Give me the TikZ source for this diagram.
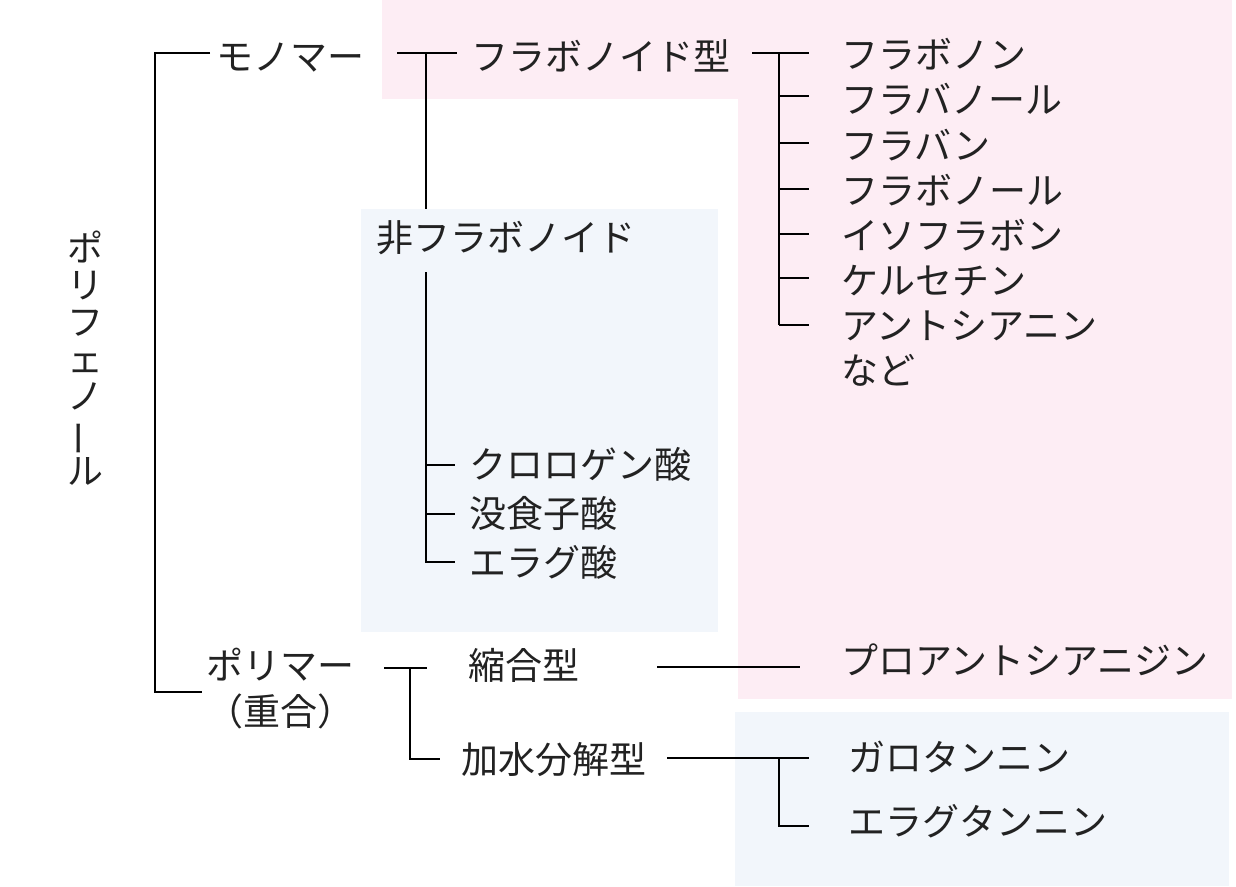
\documentclass[tikz,border=0pt]{standalone}
\usepackage{fontspec}
\setmainfont{Noto Sans CJK JP}
\definecolor{pinkbg}{RGB}{253,237,244}
\definecolor{bluebg}{RGB}{242,246,251}
\definecolor{txt}{RGB}{34,34,34}
\begin{document}
\begin{tikzpicture}[x=1pt,y=-1pt,
  lbl/.style={anchor=west,inner sep=0pt,text=txt,font=\fontsize{37}{40}\selectfont,text height=0.88em,text depth=0.12em,yshift=-10pt},
  ln/.style={draw=black,line width=1.1pt}]
\useasboundingbox (0,0) rectangle (1236,886);
\fill[white] (0,0) rectangle (1236,886);
% backgrounds
\fill[pinkbg] (382,0) rectangle (740,99);
\fill[pinkbg] (738,0) rectangle (1232,699);
\fill[bluebg] (361,209) rectangle (718,632);
\fill[bluebg] (735,712) rectangle (1229,886);
% vertical title
\node[inner sep=0pt,text=txt,font=\fontsize{36}{37}\selectfont,align=center] (root) at (85,358)
  {ポ\\リ\\フ\\ェ\\ノ\\\rotatebox[origin=c]{90}{ー}\\ル};
% nodes
\node[lbl] (mono) at (216,57) {モノマー};
\node[lbl] (flv) at (471,57) {フラボノイド型};
\node[lbl] (f1) at (841,55) {フラボノン};
\node[lbl] (f2) at (841,100) {フラバノール};
\node[lbl] (f3) at (841,146) {フラバン};
\node[lbl] (f4) at (841,191) {フラボノール};
\node[lbl] (f5) at (841,236) {イソフラボン};
\node[lbl] (f6) at (841,281) {ケルセチン};
\node[lbl] (f7) at (841,326) {アントシアニン};
\node[lbl] (f8) at (841,371) {など};
\node[lbl] (nf) at (376,238) {非フラボノイド};
\node[lbl] (n1) at (469,465) {クロロゲン酸};
\node[lbl] (n2) at (469,514) {没食子酸};
\node[lbl] (n3) at (469,563) {エラグ酸};
\node[lbl] (poly) at (206,666) {ポリマー};
\node[lbl] (poly2) at (206,712) {（重合）};
\node[lbl] (cond) at (468,666) {縮合型};
\node[lbl] (pro) at (841,661) {プロアントシアニジン};
\node[lbl] (hyd) at (461,760) {加水分解型};
\node[lbl] (g1) at (848,758) {ガロタンニン};
\node[lbl] (g2) at (848,822) {エラグタンニン};
% coordinates for brackets
\coordinate (a1) at (155,53);
\coordinate (a2) at (155,692);
\coordinate (a1e) at (210,53);
\coordinate (a2e) at (202,692);
\coordinate (b0) at (397,53);
\coordinate (b1) at (426,53);
\coordinate (b1e) at (457,53);
\coordinate (b2) at (426,209);
\coordinate (b3) at (426,272);
\coordinate (bn1) at (426,465);
\coordinate (bn2) at (426,514);
\coordinate (bn3) at (426,562);
\coordinate (c0) at (752,53);
\coordinate (c1) at (779,53);
\coordinate (c7) at (779,325);
\coordinate (p0) at (384,668);
\coordinate (p1) at (410,668);
\coordinate (p1e) at (427,668);
\coordinate (p2) at (410,759);
\coordinate (q0) at (657,667);
\coordinate (q1) at (800,667);
\coordinate (h0) at (667,758);
\coordinate (h1) at (779,758);
\coordinate (h2) at (779,826);
% lines
\draw[ln] (a1e) -- (a1) -- (a2) -- (a2e);
\draw[ln] (b0) -- (b1e);
\draw[ln] (b1) -- (b2);
\draw[ln] (b3) -- (bn3) -- ++(29,0);
\draw[ln] (bn1) -- ++(29,0);
\draw[ln] (bn2) -- ++(29,0);
\draw[ln] (c0) -- (c1) -- (c7);
\foreach \y in {53,96,143,189,234,278,325} \draw[ln] (779,\y) -- (809,\y);
\draw[ln] (p0) -- (p1e);
\draw[ln] (p1) -- (p2) -- ++(30,0);
\draw[ln] (q0) -- (q1);
\draw[ln] (h0) -- (h1) -- (h2) -- ++(30,0);
\draw[ln] (h1) -- ++(30,0);
\end{tikzpicture}
\end{document}
